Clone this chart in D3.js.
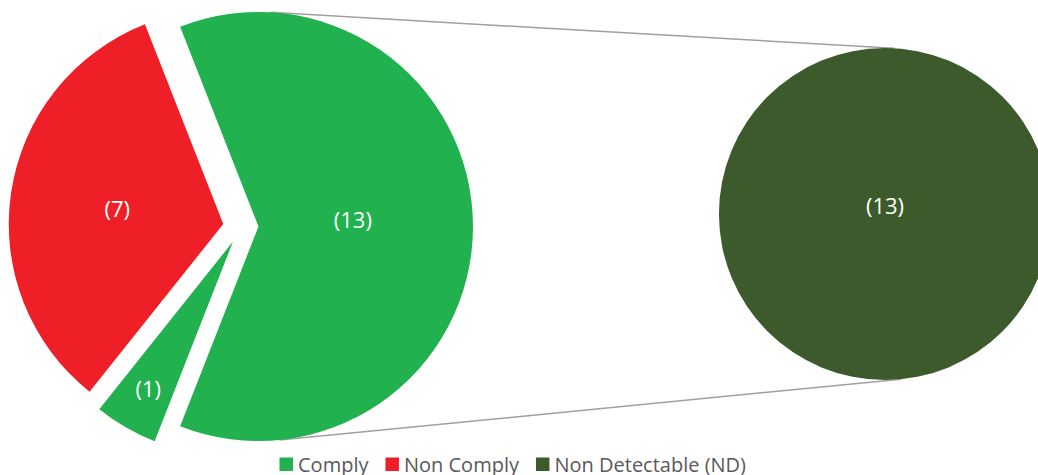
<!DOCTYPE html>
<html>
<head>
<meta charset="utf-8">
<script src="https://cdn.jsdelivr.net/npm/d3@7"></script>
<style>
  html, body { margin: 0; padding: 0; background: #ffffff; }
  svg { display: block; }
  text { font-family: "Open Sans", "Noto Sans", sans-serif; }
</style>
</head>
<body>
<svg id="chart" width="1038" height="475"></svg>
<script>
// ---- data ----
const categories = ["Comply", "Non Comply", "Non Detectable (ND)"];
const categoryColors = ["#21b14f", "#ee1f26", "#3c5a2c"];

// main pie: the first slice is the one broken out into the secondary pie
const mainValues = [13, 1, 7];
const mainCategory = ["Comply", "Comply", "Non Comply"];

// secondary pie: breakdown of the linked slice
const secondaryValues = [13];
const secondaryCategory = ["Non Detectable (ND)"];

// ---- layout ----
const W = 1038, H = 475;
const main = { cx: 258.5, cy: 226.5, r: 214.5 };
const second = { cx: 885, cy: 214, r: 166 };
const explodeDist = [0, 29.6, 35.3];        // px
const explodeDir = [0, 239.5, 274];          // degrees, clockwise from 12 o'clock
const labelRadius = [0.44, 0.79, 0.5];       // fraction of radius
const labelNudgeY = [-7.5, 0, 0];
const secondLabelNudgeY = -9;

const color = d3.scaleOrdinal().domain(categories).range(categoryColors);
const svg = d3.select("#chart");
const rad = d => d * Math.PI / 180;

// linked slice centred on 3 o'clock
const total = d3.sum(mainValues);
const start = Math.PI / 2 - Math.PI * mainValues[0] / total;
const pie = d3.pie().sort(null).value(d => d).startAngle(start).endAngle(start + 2 * Math.PI);
const mainArcs = pie(mainValues);

const arc = d3.arc().innerRadius(0).outerRadius(main.r);

// connector lines: outer tangents between the two circles
(function drawConnectors() {
  const dx = second.cx - main.cx, dy = second.cy - main.cy;
  const d = Math.hypot(dx, dy);
  const base = Math.atan2(dy, dx);
  const t = Math.acos((main.r - second.r) / d);
  [base - t, base + t].forEach(a => {
    const x1 = main.cx + main.r * Math.cos(a), y1 = main.cy + main.r * Math.sin(a);
    const x2 = second.cx + second.r * Math.cos(a), y2 = second.cy + second.r * Math.sin(a);
    svg.append("line")
      .attr("x1", x1).attr("y1", y1).attr("x2", x2).attr("y2", y2)
      .attr("stroke", "#a0a0a0").attr("stroke-width", 1.5);
  });
})();

// main pie slices
const offset = i => {
  const a = rad(explodeDir[i]);
  return [explodeDist[i] * Math.sin(a), -explodeDist[i] * Math.cos(a)];
};

const mainG = svg.append("g").attr("transform", `translate(${main.cx},${main.cy})`);
mainG.selectAll("path.slice")
  .data(mainArcs)
  .join("path")
  .attr("class", "slice")
  .attr("transform", (d, i) => `translate(${offset(i)[0]},${offset(i)[1]})`)
  .attr("d", arc)
  .attr("fill", (d, i) => color(mainCategory[i]));

mainG.selectAll("text.lbl")
  .data(mainArcs)
  .join("text")
  .attr("class", "lbl")
  .attr("x", (d, i) => {
    const m = (d.startAngle + d.endAngle) / 2;
    return offset(i)[0] + labelRadius[i] * main.r * Math.sin(m);
  })
  .attr("y", (d, i) => {
    const m = (d.startAngle + d.endAngle) / 2;
    return offset(i)[1] - labelRadius[i] * main.r * Math.cos(m) + labelNudgeY[i];
  })
  .attr("text-anchor", "middle")
  .attr("dominant-baseline", "central")
  .attr("fill", "#ffffff")
  .attr("font-size", 22)
  .text(d => `(${d.value})`);

// secondary pie
const pie2 = d3.pie().sort(null).value(d => d);
const arc2 = d3.arc().innerRadius(0).outerRadius(second.r);
const secG = svg.append("g").attr("transform", `translate(${second.cx},${second.cy})`);
secG.selectAll("path")
  .data(pie2(secondaryValues))
  .join("path")
  .attr("d", arc2)
  .attr("fill", (d, i) => color(secondaryCategory[i]));
secG.selectAll("text")
  .data(pie2(secondaryValues))
  .join("text")
  .attr("x", d => secondaryValues.length === 1 ? 0 : arc2.centroid(d)[0])
  .attr("y", d => (secondaryValues.length === 1 ? 0 : arc2.centroid(d)[1]) + secondLabelNudgeY)
  .attr("text-anchor", "middle")
  .attr("dominant-baseline", "central")
  .attr("fill", "#ffffff")
  .attr("font-size", 22)
  .text(d => `(${d.value})`);

// legend
const legend = svg.append("g").attr("transform", "translate(279.5, 0)");
let lx = 0;
categories.forEach((c, i) => {
  legend.append("rect")
    .attr("x", lx).attr("y", 457.5)
    .attr("width", 13.5).attr("height", 13.5)
    .attr("fill", color(c));
  const t = legend.append("text")
    .attr("x", lx + 18.5).attr("y", 471.5)
    .attr("fill", "#595959")
    .attr("font-size", 20)
    .text(c);
  lx += 18.5 + t.node().getComputedTextLength() + 17;
});
</script>
</body>
</html>
